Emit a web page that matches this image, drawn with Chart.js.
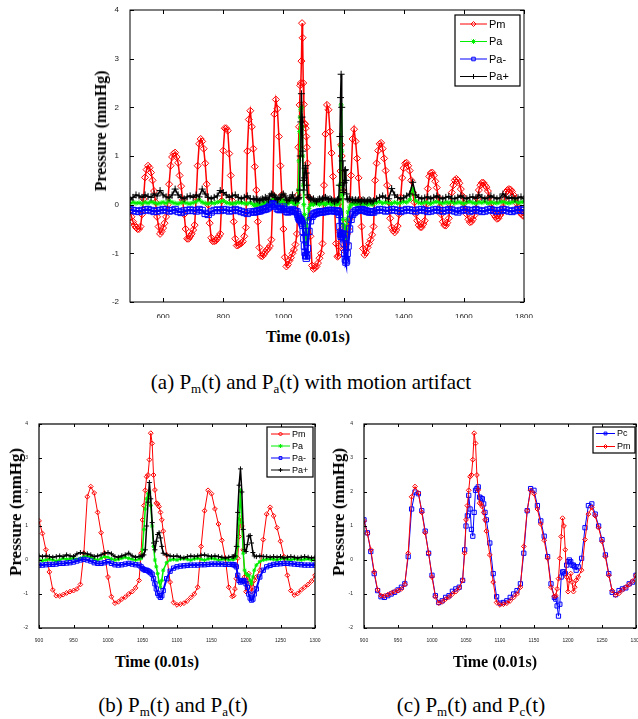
<!DOCTYPE html>
<html>
<head>
<meta charset="utf-8">
<title>Pm / Pa / Pc pressure traces</title>
<script src="https://cdn.jsdelivr.net/npm/chart.js@4.4.0/dist/chart.umd.min.js"></script>
<style>
   html, body { margin: 0; padding: 0; width: 638px; height: 719px; overflow: hidden; background: #fff; }
   .wrap { position: absolute; }
   .lbl { position: absolute; white-space: nowrap; color: #000; font-family: "Liberation Serif", "Times New Roman", serif; transform: translate(-50%, -50%); }
   .ytitle { font-weight: bold; transform: translate(-50%, -50%) rotate(-90deg); }
   .xtitle { font-weight: bold; font-size: 16px; }
   .cap { font-size: 21px; }
   .cap sub { font-size: 13px; vertical-align: -4px; line-height: 0; }
</style>
</head>
<body>
<div class="wrap" style="left:90px; top:0px; width:450px; height:318px;"><canvas id="chartA"></canvas></div>
<div class="wrap" style="left:0px; top:414px; width:330px; height:230px;"><canvas id="chartB"></canvas></div>
<div class="wrap" style="left:324px; top:414px; width:330px; height:230px;"><canvas id="chartC"></canvas></div>

<div class="lbl ytitle" style="left:101px; top:131px; font-size:16px;">Pressure (mmHg)</div>
<div class="lbl xtitle" style="left:308px; top:337px;">Time (0.01s)</div>
<div class="lbl cap" style="left:311px; top:382px;">(a) P<sub>m</sub>(t) and P<sub>a</sub>(t) with motion artifact</div>

<div class="lbl ytitle" style="left:16px; top:512px; font-size:17px;">Pressure (mmHg)</div>
<div class="lbl xtitle" style="left:157px; top:662px;">Time (0.01s)</div>
<div class="lbl cap" style="left:173px; top:705px;">(b) P<sub>m</sub>(t) and P<sub>a</sub>(t)</div>

<div class="lbl ytitle" style="left:339px; top:512px; font-size:17px;">Pressure (mmHg)</div>
<div class="lbl xtitle" style="left:495px; top:662px;">Time (0.01s)</div>
<div class="lbl cap" style="left:471px; top:705px;">(c) P<sub>m</sub>(t) and P<sub>c</sub>(t)</div>

<script>
// ===== Data (time in 0.01 s, pressure in mmHg) =====

// sample times of the measured pressure Pm (and of Pc inside 900..1300)
var gTimePm = [
   490, 495, 500, 505, 510, 515, 520, 525, 530, 535,
   540, 545, 550, 555, 560, 565, 570, 575, 580, 585,
   590, 595, 600, 605, 610, 615, 620, 625, 630, 635,
   640, 645, 650, 655, 660, 665, 670, 675, 680, 685,
   690, 695, 700, 705, 710, 715, 720, 725, 730, 735,
   740, 745, 750, 755, 760, 765, 770, 775, 780, 785,
   790, 795, 800, 805, 810, 815, 820, 825, 830, 835,
   840, 845, 850, 855, 860, 865, 870, 875, 880, 885,
   890, 895,
   900, 905, 910, 915, 920, 925, 930, 935, 940, 945,
   950, 955, 960, 965, 970, 975, 980, 985, 990, 995,
   1000, 1005, 1010, 1015, 1020, 1025, 1030, 1035, 1040, 1045,
   1048, 1050, 1052, 1054, 1056, 1058, 1060, 1062, 1064, 1066, 1068, 1070, 1072, 1074, 1076, 1078, 1080,
   1085, 1090, 1095, 1100, 1105, 1110, 1115, 1120, 1125, 1130,
   1135, 1140, 1145, 1150, 1155, 1160, 1165, 1170, 1175, 1180,
   1182, 1184, 1186, 1188, 1190, 1192, 1194, 1196, 1198, 1200, 1202, 1204, 1206, 1208, 1210, 1212,
   1215, 1220, 1225, 1230, 1235, 1240, 1245, 1250, 1255, 1260, 1265, 1270, 1275, 1280, 1285, 1290, 1295, 1300,
   1305, 1310, 1315, 1320, 1325, 1330, 1335, 1340, 1345, 1350,
   1355, 1360, 1365, 1370, 1375, 1380, 1385, 1390, 1395, 1400,
   1405, 1410, 1415, 1420, 1425, 1430, 1435, 1440, 1445, 1450,
   1455, 1460, 1465, 1470, 1475, 1480, 1485, 1490, 1495, 1500,
   1505, 1510, 1515, 1520, 1525, 1530, 1535, 1540, 1545, 1550,
   1555, 1560, 1565, 1570, 1575, 1580, 1585, 1590, 1595, 1600,
   1605, 1610, 1615, 1620, 1625, 1630, 1635, 1640, 1645, 1650,
   1655, 1660, 1665, 1670, 1675, 1680, 1685, 1690, 1695, 1700,
   1705, 1710, 1715, 1720, 1725, 1730, 1735, 1740, 1745, 1750,
   1755, 1760, 1765, 1770, 1775, 1780, 1785, 1790, 1795, 1800
];

var gPm = [
   -0.12, -0.25, -0.35, -0.42, -0.47, -0.5, -0.5, -0.45, -0.2, 0.12,
   0.56, 0.72, 0.8, 0.76, 0.66, 0.5, 0.28, 0.05, -0.25, -0.45,
   -0.6, -0.55, -0.48, -0.38, -0.25, 0.0, 0.42, 0.8, 0.98, 1.05,
   1.07, 0.98, 0.86, 0.6, 0.38, 0.1, -0.2, -0.5, -0.7, -0.7,
   -0.65, -0.6, -0.52, -0.42, 0.15, 0.8, 1.25, 1.35, 1.3, 1.15,
   0.85, 0.42, 0.0, -0.38, -0.68, -0.75, -0.75, -0.74, -0.7, -0.65,
   -0.6, 0.08, 1.11, 1.57, 1.57, 1.52, 1.05, 0.6, 0.08, -0.35,
   -0.7, -0.84, -0.83, -0.81, -0.79, -0.76, -0.65, -0.47, 1.1, 1.75,
   1.93, 1.6,
   1.15, 0.78, 0.3, -0.35, -0.88, -1.05, -1.06, -1.02, -0.97, -0.93,
   -0.9, -0.85, -0.72, 0.2, 1.86, 2.16, 1.97, 1.4, 0.8, 0.2,
   -0.5, -1.08, -1.27, -1.23, -1.15, -1.09, -1.0, -0.93, -0.82, -0.6,
   0.2, 1.18, 1.6, 2.05, 2.45, 2.5, 2.95, 3.73, 3.43, 2.5, 2.06, 1.67, 1.65, 1.57, 1.4, 1.18, 0.85,
   0.15, -0.65, -1.25, -1.32, -1.3, -1.27, -1.2, -1.1, -1.0, -0.8,
   0.4, 1.45, 2.05, 1.95, 1.5, 1.06, 0.58, 0.05, -0.8, -1.07,
   -1.05, -0.85, -0.55, 0.05, 0.69, 1.23, 1.0, 0.3, -0.5, -0.93, -0.6, -0.4, -0.65, -0.93, -0.8, -0.6,
   -0.5, -0.3, 0.6, 1.35, 1.55, 1.3, 0.95, 0.55, 0.1, -0.45, -0.9, -1.03, -0.98, -0.88, -0.8, -0.72, -0.62, -0.45,
   0.5, 0.85, 1.11, 1.25, 1.27, 1.15, 0.95, 0.7, 0.4, 0.05,
   -0.28, -0.47, -0.53, -0.57, -0.52, -0.44, -0.2, 0.15, 0.55, 0.75,
   0.85, 0.86, 0.8, 0.7, 0.5, 0.25, 0.05, -0.19, -0.33, -0.42,
   -0.46, -0.46, -0.4, -0.33, 0.0, 0.33, 0.58, 0.65, 0.66, 0.6,
   0.48, 0.35, 0.15, -0.05, -0.2, -0.35, -0.42, -0.43, -0.37, -0.28,
   0.0, 0.25, 0.4, 0.5, 0.53, 0.5, 0.44, 0.32, 0.18, 0.03,
   -0.1, -0.2, -0.3, -0.36, -0.35, -0.3, -0.22, -0.08, 0.12, 0.3,
   0.4, 0.45, 0.45, 0.4, 0.36, 0.28, 0.15, 0.02, -0.1, -0.2,
   -0.25, -0.29, -0.28, -0.22, -0.17, -0.05, 0.12, 0.25, 0.3, 0.32,
   0.31, 0.27, 0.2, 0.12, 0.03, -0.05, -0.12, -0.18, -0.22, -0.23
];

// sample times of the artifact estimates Pa, Pa-, Pa+
var gTimeArt = [
   490, 500, 510, 520, 530, 540, 550, 560, 570, 580,
   590, 600, 610, 620, 630, 640, 650, 660, 670, 680,
   690, 700, 710, 720, 730, 740, 750, 760, 770, 780,
   790, 800, 810, 820, 830, 840, 850, 860, 870, 880,
   890,
   900, 905, 910, 915, 920, 925, 930, 935, 940, 945,
   950, 955, 960, 965, 970, 975, 980, 985, 990, 995,
   1000, 1005, 1010, 1015, 1020, 1025, 1030, 1035, 1040, 1045,
   1048, 1050, 1052, 1054, 1056, 1058, 1060, 1062, 1064, 1066, 1068, 1070, 1072, 1074, 1076, 1078, 1080,
   1085, 1090, 1095, 1100, 1105, 1110, 1115, 1120, 1125, 1130,
   1135, 1140, 1145, 1150, 1155, 1160, 1165, 1170, 1175, 1180,
   1182, 1184, 1186, 1188, 1190, 1192, 1194, 1196, 1198, 1200, 1202, 1204, 1206, 1208, 1210, 1212,
   1215, 1220, 1225, 1230, 1235, 1240, 1245, 1250, 1255, 1260, 1265, 1270, 1275, 1280, 1285, 1290, 1295, 1300,
   1310, 1320, 1330, 1340, 1350, 1360, 1370, 1380, 1390, 1400,
   1410, 1420, 1430, 1440, 1450, 1460, 1470, 1480, 1490, 1500,
   1510, 1520, 1530, 1540, 1550, 1560, 1570, 1580, 1590, 1600,
   1610, 1620, 1630, 1640, 1650, 1660, 1670, 1680, 1690, 1700,
   1710, 1720, 1730, 1740, 1750, 1760, 1770, 1780, 1790, 1800
];

var gPa = [
   0.02, 0.05, 0.03, 0.04, 0.02, 0.05, 0.03, 0.06, 0.04, 0.02,
   0.03, 0.05, 0.03, 0.08, 0.05, 0.03, 0.02, 0.04, 0.05, 0.03,
   0.02, 0.04, 0.06, 0.1, 0.05, 0.03, 0.02, 0.04, 0.03, 0.05,
   0.06, 0.08, 0.04, 0.03, 0.02, 0.03, 0.05, 0.04, 0.03, 0.02,
   0.04,
   0.0, -0.02, 0.0, 0.02, 0.0, -0.03, 0.0, 0.05, 0.02, 0.03,
   0.05, 0.02, 0.05, 0.1, 0.12, 0.08, 0.03, 0.0, 0.05, 0.1,
   0.08, 0.03, 0.0, 0.02, 0.05, 0.08, 0.05, 0.02, 0.0, 0.02,
   0.05, 0.3, 0.9, 1.5, 1.8, 1.95, 2.0, 1.6, 1.0, 0.4, 0.0, -0.2, -0.4, -0.65, -0.8, -0.6, -0.3,
   -0.08, 0.0, 0.02, 0.0, 0.03, 0.05, 0.02, 0.0, 0.03, 0.05,
   0.02, 0.0, 0.03, 0.05, 0.03, 0.0, 0.02, 0.03, 0.0, 0.02,
   0.02, 0.05, 0.1, 0.4, 1.2, 2.05, 1.1, 0.2, -0.3, -0.4, -0.45, -0.45, -0.6, -0.7, -0.5, -0.3,
   -0.15, -0.05, 0.0, 0.02, 0.03, 0.02, 0.0, 0.03, 0.05, 0.02, 0.0, 0.03, 0.02, 0.0, 0.02, 0.03, 0.0, 0.02,
   0.04, 0.06, 0.03, 0.05, 0.04, 0.02, 0.05, 0.03, 0.04, 0.06,
   0.05, 0.1, 0.32, 0.08, 0.04, 0.03, 0.05, 0.04, 0.02, 0.05,
   0.06, 0.04, 0.03, 0.05, 0.04, 0.06, 0.03, 0.05, 0.04, 0.02,
   0.05, 0.06, 0.04, 0.03, 0.05, 0.04, 0.06, 0.03, 0.05, 0.04,
   0.03, 0.05, 0.06, 0.04, 0.03, 0.05, 0.07, 0.04, 0.05, 0.06
];

var gPaMinus = [
   -0.1, -0.12, -0.13, -0.14, -0.12, -0.11, -0.1, -0.12, -0.14, -0.13,
   -0.12, -0.1, -0.11, -0.13, -0.12, -0.1, -0.14, -0.16, -0.13, -0.12,
   -0.11, -0.12, -0.13, -0.1, -0.12, -0.18, -0.2, -0.15, -0.12, -0.11,
   -0.12, -0.1, -0.11, -0.13, -0.12, -0.1, -0.12, -0.14, -0.16, -0.18,
   -0.15,
   -0.15, -0.15, -0.14, -0.13, -0.13, -0.12, -0.1, -0.1, -0.09, -0.08,
   -0.06, -0.03, 0.0, 0.02, 0.0, -0.03, -0.08, -0.1, -0.1, -0.08,
   -0.05, -0.1, -0.14, -0.15, -0.14, -0.12, -0.1, -0.12, -0.14, -0.15,
   -0.2, -0.25, -0.28, -0.3, -0.3, -0.32, -0.35, -0.38, -0.42, -0.55, -0.7, -0.85, -0.98, -1.05, -1.1, -1.05, -0.9,
   -0.55, -0.33, -0.24, -0.2, -0.18, -0.17, -0.16, -0.15, -0.15, -0.15,
   -0.14, -0.14, -0.13, -0.12, -0.12, -0.12, -0.12, -0.13, -0.13, -0.13,
   -0.14, -0.15, -0.2, -0.45, -0.6, -0.65, -0.62, -0.6, -0.62, -0.7, -0.8, -1.0, -1.12, -1.18, -1.15, -1.0,
   -0.85, -0.5, -0.3, -0.2, -0.16, -0.13, -0.12, -0.11, -0.1, -0.1, -0.11, -0.12, -0.13, -0.14, -0.15, -0.15, -0.15, -0.15,
   -0.12, -0.1, -0.11, -0.13, -0.12, -0.1, -0.11, -0.12, -0.14, -0.12,
   -0.1, -0.11, -0.12, -0.13, -0.11, -0.1, -0.12, -0.14, -0.13, -0.11,
   -0.1, -0.12, -0.13, -0.12, -0.1, -0.11, -0.13, -0.15, -0.12, -0.1,
   -0.11, -0.13, -0.12, -0.1, -0.12, -0.14, -0.13, -0.11, -0.1, -0.12,
   -0.13, -0.12, -0.1, -0.11, -0.13, -0.14, -0.12, -0.1, -0.11, -0.12
];

var gPaPlus = [
   0.1, 0.15, 0.2, 0.18, 0.15, 0.2, 0.17, 0.15, 0.22, 0.18,
   0.29, 0.2, 0.16, 0.14, 0.2, 0.32, 0.2, 0.15, 0.12, 0.16,
   0.18, 0.15, 0.2, 0.16, 0.32, 0.22, 0.15, 0.12, 0.15, 0.18,
   0.29, 0.25, 0.2, 0.15, 0.18, 0.2, 0.15, 0.12, 0.15, 0.18,
   0.12,
   0.12, 0.1, 0.12, 0.1, 0.08, 0.1, 0.12, 0.1, 0.15, 0.12,
   0.1, 0.18, 0.22, 0.2, 0.18, 0.15, 0.1, 0.12, 0.15, 0.2,
   0.22, 0.18, 0.1, 0.08, 0.12, 0.15, 0.2, 0.12, 0.08, 0.1,
   0.12, 0.12, 0.15, 0.3, 1.0, 1.7, 2.28, 1.8, 1.1, 0.5, 0.3, 0.55, 0.75, 0.8, 0.65, 0.4, 0.2,
   0.15, 0.12, 0.1, 0.12, 0.08, 0.06, 0.1, 0.12, 0.1, 0.12,
   0.14, 0.15, 0.12, 0.1, 0.12, 0.1, 0.08, 0.06, 0.08, 0.1,
   0.1, 0.12, 0.4, 1.4, 2.2, 2.68, 2.0, 0.9, 0.3, 0.25, 0.45, 0.7, 0.72, 0.5, 0.22, 0.12,
   0.1, 0.12, 0.1, 0.1, 0.08, 0.1, 0.08, 0.1, 0.06, 0.08, 0.1, 0.08, 0.06, 0.08, 0.1, 0.08, 0.06, 0.08,
   0.12, 0.15, 0.18, 0.14, 0.12, 0.33, 0.2, 0.15, 0.12, 0.14,
   0.18, 0.22, 0.46, 0.2, 0.15, 0.12, 0.14, 0.16, 0.12, 0.15,
   0.18, 0.14, 0.12, 0.15, 0.17, 0.13, 0.12, 0.15, 0.18, 0.14,
   0.12, 0.15, 0.16, 0.13, 0.2, 0.15, 0.12, 0.14, 0.18, 0.15,
   0.12, 0.14, 0.22, 0.16, 0.13, 0.15, 0.12, 0.14, 0.16, 0.12
];

// Pc only exists on the zoomed window 900..1300 (same sample times as Pm there)
var gPc = [
   1.18, 0.8, 0.25, -0.4, -0.9, -1.08, -1.1, -1.05, -1.0, -0.95,
   -0.88, -0.8, -0.7, 0.1, 1.5, 2.0, 1.95, 1.45, 0.85, 0.2,
   -0.45, -1.05, -1.25, -1.2, -1.1, -1.05, -0.92, -0.85, -0.8, -0.6,
   0.3, 1.0, 1.3, 1.9, 1.5, 0.9, 0.7, 1.4, 2.05, 2.1, 2.15, 1.85, 1.82, 1.8, 1.65, 1.4, 1.18,
   0.5, -0.4, -1.08, -1.27, -1.25, -1.2, -1.1, -1.0, -0.9, -0.7,
   0.2, 1.45, 2.1, 2.05, 1.6, 1.15, 0.7, 0.1, -0.7, -1.1,
   -1.15, -1.35, -1.65, -1.3, -0.5, -0.35, -0.35, -0.4, -0.15, -0.05, 0.0, -0.05, -0.15, -0.15, -0.2, -0.3,
   -0.2, 0.05, 0.95, 1.6, 1.65, 1.35, 1.0, 0.6, 0.15, -0.4, -0.95, -1.02, -0.9, -0.85, -0.82, -0.7, -0.65, -0.45
];

var gTickXA = [600, 800, 1000, 1200, 1400, 1600, 1800];
var gTickXB = [900, 950, 1000, 1050, 1100, 1150, 1200, 1250, 1300];
var gTickY = [-2, -1, 0, 1, 2, 3, 4];

// ===== helpers =====
Chart.defaults.font.family = '"Liberation Sans", Arial, sans-serif';

function toPoints(paramTime, paramValues, paramFrom, paramTo) {
   var vPoints = [];
   for (var i = 0; i < paramTime.length; i++) {
      if (paramTime[i] >= paramFrom && paramTime[i] <= paramTo) {
         vPoints.push({ x: paramTime[i], y: paramValues[i] });
      }
   }
   return vPoints;
}

// zoom window times, Pc is aligned with these
var gTimeZoom = gTimePm.filter(function (t) { return t >= 900 && t <= 1300; });

function makeSet(paramLabel, paramData, paramColor, paramStyle, paramRadius, paramFill, paramOrder, paramWidth) {
   return {
      label: paramLabel,
      data: paramData,
      borderColor: paramColor,
      backgroundColor: paramColor,
      borderWidth: paramWidth || 1,
      pointStyle: paramStyle,
      pointRadius: paramRadius,
      pointBorderWidth: 1,
      pointBorderColor: paramColor,
      pointBackgroundColor: paramFill ? paramColor : "rgba(255,255,255,0)",
      tension: 0,
      fill: false,
      order: paramOrder,
   };
}

// frame + MATLAB style inward ticks
function framePlugin(paramTickLen, paramLineWidth) {
   return {
      id: "frame",
      afterDraw: function (chart) {
         var ctx = chart.ctx;
         var a = chart.chartArea;
         ctx.save();
         ctx.strokeStyle = "#000";
         ctx.lineWidth = paramLineWidth;
         ctx.strokeRect(a.left, a.top, a.right - a.left, a.bottom - a.top);
         ctx.lineWidth = 1;
         ctx.beginPath();
         chart.scales.x.ticks.forEach(function (t) {
            var px = Math.round(chart.scales.x.getPixelForValue(t.value)) + 0.5;
            ctx.moveTo(px, a.bottom);
            ctx.lineTo(px, a.bottom - paramTickLen);
            ctx.moveTo(px, a.top);
            ctx.lineTo(px, a.top + paramTickLen);
         });
         chart.scales.y.ticks.forEach(function (t) {
            var py = Math.round(chart.scales.y.getPixelForValue(t.value)) + 0.5;
            ctx.moveTo(a.left, py);
            ctx.lineTo(a.left + paramTickLen, py);
            ctx.moveTo(a.right, py);
            ctx.lineTo(a.right - paramTickLen, py);
         });
         ctx.stroke();
         ctx.restore();
      },
   };
}

// legend box drawn inside the plot, top right
function legendPlugin(paramBox) {
   return {
      id: "boxLegend",
      afterDraw: function (chart) {
         var ctx = chart.ctx;
         var a = chart.chartArea;
         var x0 = a.right - paramBox.right - paramBox.width;
         var y0 = a.top + paramBox.top;
         ctx.save();
         ctx.fillStyle = "#fff";
         ctx.fillRect(x0, y0, paramBox.width, paramBox.height);
         ctx.strokeStyle = "#000";
         ctx.lineWidth = 1.2;
         ctx.strokeRect(x0, y0, paramBox.width, paramBox.height);
         ctx.font = paramBox.font;
         ctx.textBaseline = "middle";
         chart.data.datasets.forEach(function (ds, i) {
            var y = y0 + paramBox.firstRow + i * paramBox.rowHeight;
            var xa = x0 + paramBox.lineFrom;
            var xb = x0 + paramBox.lineTo;
            ctx.strokeStyle = ds.borderColor;
            ctx.lineWidth = 1;
            ctx.beginPath();
            ctx.moveTo(xa, y);
            ctx.lineTo(xb, y);
            ctx.stroke();
            ctx.fillStyle = ds.pointBackgroundColor;
            Chart.helpers.drawPoint(ctx, {
               pointStyle: ds.pointStyle,
               radius: paramBox.markerRadius,
               borderWidth: 1,
               rotation: 0,
            }, (xa + xb) / 2, y);
            ctx.fillStyle = "#000";
            ctx.fillText(ds.label, x0 + paramBox.textX, y + 0.5);
         });
         ctx.restore();
      },
   };
}

function axisOptions(paramMin, paramMax, paramTicks, paramFontSize, paramSize, paramPad, paramIsX) {
   return {
      type: "linear",
      min: paramMin,
      max: paramMax,
      grid: { display: false },
      border: { display: false },
      ticks: {
         font: { size: paramFontSize },
         color: "#222",
         padding: paramPad,
         autoSkip: false,
         maxRotation: 0,
         callback: function (value) { return String(value); },
      },
      afterBuildTicks: function (scale) {
         scale.ticks = paramTicks.map(function (v) { return { value: v }; });
      },
      afterFit: function (scale) {
         if (paramIsX) scale.height = paramSize; else scale.width = paramSize;
      },
   };
}

function baseOptions(paramPadRight, paramXMin, paramXMax, paramXTicks, paramFont, paramYWidth) {
   return {
      responsive: true,
      maintainAspectRatio: false,
      animation: false,
      events: [],
      devicePixelRatio: 1,
      layout: { padding: { top: 10, right: paramPadRight, left: 0, bottom: 0 } },
      plugins: { legend: { display: false }, tooltip: { enabled: false } },
      scales: {
         x: axisOptions(paramXMin, paramXMax, paramXTicks, paramFont, 16, 2, true),
         y: axisOptions(-2, 4, gTickY, paramFont, paramYWidth, 3, false),
      },
   };
}

// ===== (a) whole record with motion artifact =====
new Chart(document.getElementById("chartA"), {
   type: "line",
   data: {
      datasets: [
         makeSet("Pm", toPoints(gTimePm, gPm, 490, 1800), "#ff0000", "rectRot", 3.5, false, 3, 1.5),
         makeSet("Pa", toPoints(gTimeArt, gPa, 490, 1800), "#00ee00", "star", 2.5, true, 2, 1.5),
         makeSet("Pa-", toPoints(gTimeArt, gPaMinus, 490, 1800), "#0000ff", "rect", 4.5, false, 1, 2.5),
         makeSet("Pa+", toPoints(gTimeArt, gPaPlus, 490, 1800), "#000000", "cross", 3.5, false, 0, 1.5),
      ],
   },
   options: baseOptions(16, 490, 1800, gTickXA, 8, 40),
   plugins: [
      framePlugin(4, 1),
      legendPlugin({ right: 4, top: 5, width: 65, height: 71, firstRow: 9, rowHeight: 17.5,
         lineFrom: 5, lineTo: 32, textX: 34, markerRadius: 2.5, font: "11px \"Liberation Sans\", Arial, sans-serif" }),
   ],
});

// ===== (b) zoom, Pm and Pa =====
new Chart(document.getElementById("chartB"), {
   type: "line",
   data: {
      datasets: [
         makeSet("Pm", toPoints(gTimePm, gPm, 900, 1300), "#ff0000", "rectRot", 2.4, false, 3),
         makeSet("Pa", toPoints(gTimeArt, gPa, 900, 1300), "#00ee00", "star", 2, true, 2, 1.5),
         makeSet("Pa-", toPoints(gTimeArt, gPaMinus, 900, 1300), "#0000ff", "rect", 3, false, 1, 2),
         makeSet("Pa+", toPoints(gTimeArt, gPaPlus, 900, 1300), "#000000", "cross", 2.5, false, 0, 1.5),
      ],
   },
   options: baseOptions(15, 900, 1300, gTickXB, 5, 39),
   plugins: [
      framePlugin(3, 1.2),
      legendPlugin({ right: 2, top: 3, width: 46, height: 50, firstRow: 7, rowHeight: 12,
         lineFrom: 4, lineTo: 23, textX: 25, markerRadius: 2, font: "9px \"Liberation Sans\", Arial, sans-serif" }),
   ],
});

// ===== (c) zoom, Pm and recovered Pc =====
new Chart(document.getElementById("chartC"), {
   type: "line",
   data: {
      datasets: [
         makeSet("Pc", toPoints(gTimeZoom, gPc, 900, 1300), "#0000ff", "rect", 3, false, 1),
         makeSet("Pm", toPoints(gTimePm, gPm, 900, 1300), "#ff0000", "rectRot", 2.4, false, 0),
      ],
   },
   options: baseOptions(18, 900, 1300, gTickXB, 5, 40),
   plugins: [
      framePlugin(3, 1.2),
      legendPlugin({ right: 1, top: 3, width: 42, height: 26, firstRow: 6.5, rowHeight: 13,
         lineFrom: 3, lineTo: 22, textX: 24, markerRadius: 2, font: "9px \"Liberation Sans\", Arial, sans-serif" }),
   ],
});
</script>
</body>
</html>
